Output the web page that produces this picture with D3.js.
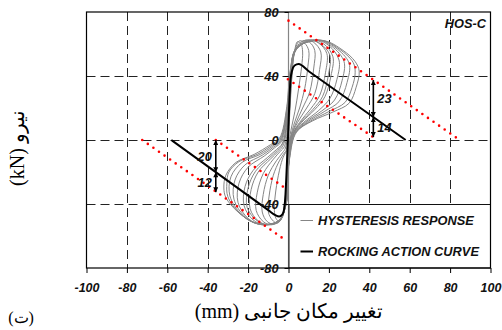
<!DOCTYPE html>
<html><head><meta charset="utf-8">
<script src="https://cdn.jsdelivr.net/npm/d3@7"></script>
<style>body{margin:0;background:#fff}svg{display:block}</style>
</head><body>
<svg id="c" width="502" height="330"></svg>
<script>
// ---------- data ----------
const xTicks = [-100, -80, -60, -40, -20, 0, 20, 40, 60, 80, 100];
const yTicks = [80, 40, 0, -40, -80];
const chartTag = "HOS-C";
const xTitle = "تغییر مکان جانبی (mm)";
const yTitle = "نیرو (kN)";
const panelTag = "(ت)";

// rocking action curve (mm, kN)
const rockingCurve = [[-58,0],[-10,-43.8],[-6.5,-47],[-4.6,-47.8],[-3,-46.5],[-2.2,-43.5],[-1.7,-38],
  [-0.3,0],[1,38],[1.8,43.5],[3,46.6],[5,47.5],[10,43],[58,0]];

// hysteresis response loops (mm, kN)
const loop1 = [[-0.5,-6],[0.5,14],[1.6,38],[2.8,54],[4.5,61.5],[6.2,60],[7,55],[6.5,46],[5,32],[3.2,18],[1.2,6],[0,-4],[-0.8,-22],[-1.8,-38],[-3,-47],[-4.5,-51],[-6.2,-49],[-7,-44],[-6.6,-35],[-5,-22],[-3,-12],[-1.5,-8]];
const loop2 = [[-1,-6],[0.3,14],[1.5,38],[3,55],[5.5,62],[8,60.5],[10,56],[9.6,46],[8,32],[5.5,20],[2.5,9],[0.5,-2],[-0.6,-22],[-1.8,-40],[-3.2,-48],[-5.5,-52],[-8,-50],[-10,-45],[-9.6,-35],[-7.5,-22],[-4.5,-13],[-2,-8]];
const loop3 = [[-1.5,-5],[0.2,15],[1.4,38],[3,55],[7,62],[10.5,61],[13,56],[12.5,45],[10.5,30],[7,20],[3.5,10],[0.8,0],[-0.5,-22],[-1.8,-40],[-3.5,-49],[-7,-52.5],[-10.5,-51],[-13,-45],[-12.5,-34],[-10,-22],[-6,-13],[-3,-8]];
const loop4 = [[-2,-4],[0,16],[1.3,39],[3.2,55],[8.5,62.5],[12.5,61],[16,55],[15.4,44],[13,29],[9,20],[4.5,11],[1,1],[-0.4,-20],[-1.6,-40],[-3.8,-50],[-8.5,-53],[-12.5,-51],[-16,-44],[-15.5,-33],[-12.5,-21],[-7.5,-12],[-4,-7]];
const loop5 = [[-2.5,-3],[-0.2,17],[1.2,40],[3.4,56],[10,62.5],[15,60.5],[19,54],[18.3,42],[15.5,28],[11,19.5],[5.5,11],[1.5,2],[-0.3,-20],[-1.5,-40],[-4,-50],[-10,-53],[-15,-50.5],[-19,-43],[-18.5,-31],[-15,-20],[-9,-12],[-5,-7]];
const loop5b = [[-2.8,-2],[-0.3,17],[1.1,40],[3.5,56],[11,62.5],[16,60],[20.5,53],[19.8,41],[16.8,27],[12,19],[6,11],[1.8,2.5],[-0.3,-19],[-1.5,-40],[-4.2,-50],[-10.8,-53],[-16,-50],[-20.5,-42],[-20,-30],[-16.3,-19.5],[-9.8,-11.5],[-5.5,-6.5]];
const loop6 = [[-3,-2],[-0.3,18],[1.1,40],[3.6,56],[12,62.5],[17.5,60],[22,52],[21,40],[18,27],[13,19],[6.5,11],[2,3],[-0.2,-18],[-1.4,-40],[-4.3,-50],[-11.5,-53],[-17.5,-50],[-22,-41],[-21.5,-29],[-17.5,-19],[-10.5,-11],[-6,-6]];
const loop7 = [[-3.5,-1],[-0.5,19],[1,41],[3.8,57],[13.5,62.5],[20,59],[25,50],[24,38],[20.5,26],[15,18.5],[7.5,11],[2.5,4],[0,-16],[-1.3,-40],[-4.6,-50],[-13,-53],[-20,-49],[-25,-39],[-24.5,-27],[-20,-17],[-12,-10],[-7,-5]];
const loop7b = [[-3.8,-0.5],[-0.6,19.5],[0.95,41.5],[3.9,57.2],[14.5,62.5],[21.5,58.5],[27.5,49],[26.5,37],[22.8,25],[16.5,18.2],[8.2,11],[2.7,4],[0.1,-15],[-1.25,-40],[-4.8,-50.5],[-14,-52.8],[-21.5,-48],[-27,-37],[-26.5,-25],[-21.5,-15.5],[-13,-9.5],[-7.5,-4.5]];
const loop8 = [[-4,0],[-0.6,20],[0.9,42],[4,57.5],[15.5,62.5],[23,58],[30,48],[29,36],[25,24],[18,18],[9,11],[3,4],[0.2,-14],[-1.2,-40],[-5,-51],[-15,-52.5],[-23,-47],[-29,-35],[-28.5,-23],[-23,-14],[-14,-9],[-8,-4]];
const loop8b = [[-4.2,0.5],[-0.7,20.5],[0.85,42.5],[4.1,57.8],[16.5,62.2],[25,57],[32,48.5],[33,42],[31.5,33],[28,23.5],[20,17.8],[10.5,11.5],[3.5,4.5],[0.3,-13],[-1.15,-40],[-5.2,-51],[-15.5,-52.2],[-24,-46],[-30,-35.5],[-30.5,-27],[-29.5,-20],[-24.5,-13.5],[-15.5,-9],[-8.5,-3.5]];
const loop9 = [[-4.5,1],[-0.8,21],[0.8,43],[4.2,58],[17.5,62],[27,56],[33,49],[35,43],[33.5,33],[30,23],[22,17.5],[12,12],[4,5],[0.5,-12],[-1.1,-40],[-5.5,-51],[-16,-52],[-25,-45],[-31,-36],[-32,-30],[-31,-22],[-26,-14],[-17,-9],[-9,-3]];
const hysteresisLoops = [loop1, loop2, loop3, loop4, loop5, loop5b, loop6, loop7, loop7b, loop8, loop8b, loop9];

// red dotted envelope lines
const redLines = [
  [[0,74.6],[83.6,1]],
  [[-0.3,38],[41.7,2]],
  [[-36,0],[-1.5,-30.2]],
  [[-72.4,0],[-1.6,-62.5]]
];

// dimension arrows: x, from, to, label
const arrowX = [42, 42, -36, -36];
const arrowFrom = [37.5, 14.3, 0, -20.1];
const arrowTo = [14.3, 1.8, -20.1, -32.6];
const arrowLabels = ["23", "14", "20", "12"];

const legendLabels = ["HYSTERESIS RESPONSE", "ROCKING ACTION CURVE"];

// ---------- drawing ----------
const svg = d3.select("#c");
const L = 86.5, R = 490.5, T = 12, B = 268;
const x = d3.scaleLinear().domain([-100, 100]).range([L, R]);
const y = d3.scaleLinear().domain([-80, 80]).range([B, T]);
const FONT = "'Liberation Sans', Arial, sans-serif";
const SERIF = "'Liberation Serif', 'Times New Roman', 'DejaVu Serif', serif";
const GRAY = "#858585";

svg.append("rect").attr("width", 502).attr("height", 330).attr("fill", "#fff");

const defs = svg.append("defs");
defs.append("clipPath").attr("id", "clip").append("rect")
  .attr("x", L).attr("y", T).attr("width", R - L).attr("height", B - T);
["s", "e"].forEach(k => {
  defs.append("marker").attr("id", "ah" + k)
    .attr("viewBox", "0 0 10 10").attr("refX", 10).attr("refY", 5)
    .attr("markerWidth", 6).attr("markerHeight", 5)
    .attr("markerUnits", "userSpaceOnUse")
    .attr("orient", k === "s" ? "auto-start-reverse" : "auto")
    .append("path").attr("d", "M0,0L10,5L0,10Z").attr("fill", "#000");
});

// grid
const grid = svg.append("g").attr("stroke", "#222").attr("stroke-width", 1).attr("stroke-dasharray", "9,5");
xTicks.filter(d => d !== -100 && d !== 0 && d !== 100).forEach(d => {
  grid.append("line").attr("x1", Math.round(x(d)) + 0.5).attr("x2", Math.round(x(d)) + 0.5)
    .attr("y1", T).attr("y2", B);
});
yTicks.filter(d => d !== 80 && d !== -80).forEach(d => {
  grid.append("line").attr("y1", Math.round(y(d)) + 0.5).attr("y2", Math.round(y(d)) + 0.5)
    .attr("x1", L).attr("x2", R);
});

// y axis line (gray) at x = 0
svg.append("line").attr("x1", x(0)).attr("x2", x(0)).attr("y1", T).attr("y2", B)
  .attr("stroke", GRAY).attr("stroke-width", 1.2);

const plot = svg.append("g").attr("clip-path", "url(#clip)");

// hysteresis
const loopLine = d3.line().x(d => x(d[0])).y(d => y(d[1])).curve(d3.curveCatmullRomClosed.alpha(0.5));
plot.selectAll("path.hys").data(hysteresisLoops).join("path").attr("class", "hys")
  .attr("d", loopLine).attr("fill", "none").attr("stroke", GRAY).attr("stroke-width", 1);

// red dotted lines
const straight = d3.line().x(d => x(d[0])).y(d => y(d[1]));
plot.selectAll("path.red").data(redLines).join("path").attr("class", "red")
  .attr("d", straight).attr("fill", "none").attr("stroke", "#ff0000")
  .attr("stroke-width", 2.6).attr("stroke-linecap", "round").attr("stroke-dasharray", "0,6.8");

// rocking curve
const rockLine = d3.line().x(d => x(d[0])).y(d => y(d[1])).curve(d3.curveMonotoneX);
plot.append("path").datum(rockingCurve).attr("d", rockLine)
  .attr("fill", "none").attr("stroke", "#000").attr("stroke-width", 2).attr("stroke-linejoin", "round");

// arrows
arrowX.forEach((ax, i) => {
  svg.append("line").attr("x1", x(ax)).attr("x2", x(ax))
    .attr("y1", y(arrowFrom[i])).attr("y2", y(arrowTo[i]))
    .attr("stroke", "#000").attr("stroke-width", 1.6)
    .attr("marker-start", "url(#ahs)").attr("marker-end", "url(#ahe)");
  const right = ax > 0;
  svg.append("text").attr("x", x(ax) + (right ? 4 : -4))
    .attr("y", y((arrowFrom[i] + arrowTo[i]) / 2)).attr("dy", "0.36em")
    .attr("text-anchor", right ? "start" : "end")
    .attr("font-family", FONT).attr("font-weight", "bold").attr("font-style", "italic")
    .attr("font-size", 12.8).attr("fill", "#111").text(arrowLabels[i]);
});

// legend
const lg = svg.append("g");
lg.append("rect").attr("x", x(0) + 0.5).attr("y", y(-40) + 0.5)
  .attr("width", R - x(0) - 0.5).attr("height", B - y(-40) - 0.5)
  .attr("fill", "#fff").attr("stroke", "#111").attr("stroke-width", 1);
const legY = [220.5, 251.5];
const legColor = [GRAY, "#000"];
const legW = [1, 2];
legendLabels.forEach((t, i) => {
  lg.append("line").attr("x1", 300.5).attr("x2", 313).attr("y1", legY[i]).attr("y2", legY[i])
    .attr("stroke", legColor[i]).attr("stroke-width", legW[i]);
  lg.append("text").attr("x", 318).attr("y", legY[i] + 4.8)
    .attr("font-family", FONT).attr("font-weight", "bold").attr("font-style", "italic")
    .attr("font-size", 12.8).attr("fill", "#111").text(t);
});

// frame
svg.append("rect").attr("x", L).attr("y", T).attr("width", R - L).attr("height", B - T)
  .attr("fill", "none").attr("stroke", "#000").attr("stroke-width", 1.2);

// x axis
const xa = svg.append("g").attr("transform", `translate(0,${B})`)
  .call(d3.axisBottom(x).tickValues(xTicks).tickSize(5).tickPadding(10).tickFormat(d => String(d)));
xa.select(".domain").remove();
xa.selectAll("line").attr("stroke", "#000");
xa.selectAll("text").attr("font-family", FONT).attr("font-weight", "bold").attr("font-style", "italic")
  .attr("font-size", 12.5).attr("fill", "#111");

// y axis labels at x = 0
const ya = svg.append("g").attr("transform", `translate(${x(0)},0)`)
  .call(d3.axisLeft(y).tickValues(yTicks).tickSize(4).tickPadding(6).tickFormat(d => String(d)));
ya.select(".domain").remove();
ya.selectAll("line").attr("stroke", "#000");
ya.selectAll("text").attr("font-family", FONT).attr("font-weight", "bold").attr("font-style", "italic")
  .attr("font-size", 12.8).attr("fill", "#111");

// chart tag
svg.append("text").attr("x", 486).attr("y", 28).attr("text-anchor", "end")
  .attr("font-family", FONT).attr("font-weight", "bold").attr("font-style", "italic")
  .attr("font-size", 12.8).attr("fill", "#111").text(chartTag);

// titles
svg.append("text").attr("x", 289).attr("y", 318).attr("text-anchor", "middle")
  .attr("direction", "rtl").attr("font-family", SERIF).attr("font-size", 20).attr("fill", "#000")
  .text(xTitle);
svg.append("text").attr("transform", "translate(24,148) rotate(-90)").attr("text-anchor", "middle")
  .attr("direction", "rtl").attr("font-family", SERIF).attr("font-size", 20).attr("fill", "#000")
  .text(yTitle);
svg.append("text").attr("x", 21).attr("y", 323).attr("text-anchor", "middle")
  .attr("direction", "rtl").attr("font-family", SERIF).attr("font-size", 16).attr("fill", "#000")
  .text(panelTag);
</script>
</body></html>
